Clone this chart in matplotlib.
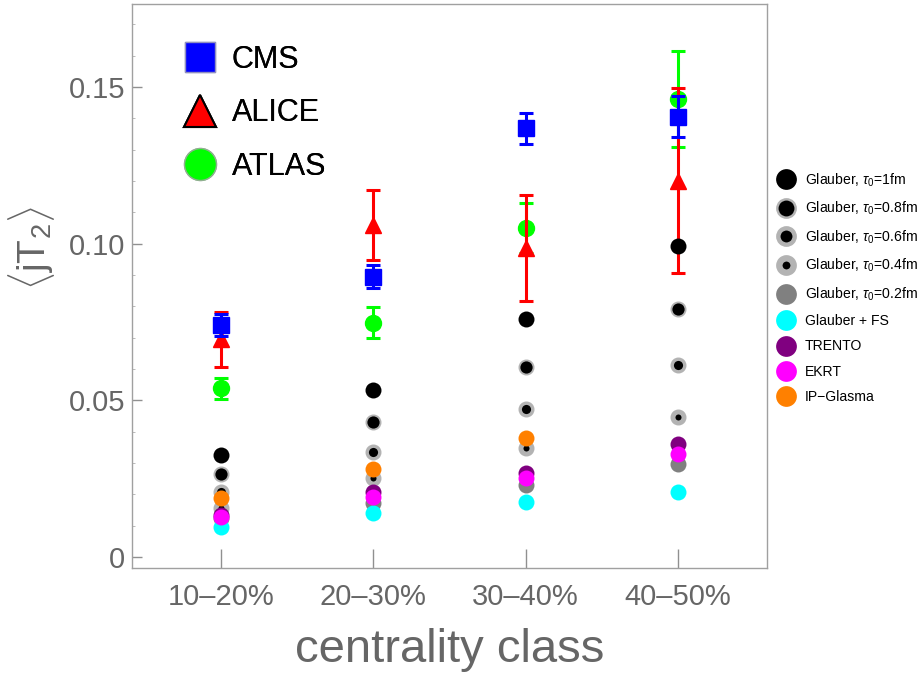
import numpy as np
import matplotlib
matplotlib.use("Agg")
import matplotlib.pyplot as plt
from matplotlib.lines import Line2D

plt.rcParams['font.family'] = ['Liberation Sans', 'DejaVu Sans']
plt.rcParams['mathtext.fontset'] = 'custom'
plt.rcParams['mathtext.rm'] = 'Liberation Sans'
plt.rcParams['mathtext.it'] = 'Liberation Sans:italic'

# ---------------- data ----------------
categories = ['10\u201320%', '20\u201330%', '30\u201340%', '40\u201350%']

cms = [0.0741, 0.0895, 0.1368, 0.1405]
cms_err = [0.0035, 0.0037, 0.0050, 0.0065]
alice = [0.0695, 0.1060, 0.0985, 0.1201]
alice_err = [0.0087, 0.0112, 0.0169, 0.0296]
atlas = [0.0538, 0.0748, 0.1049, 0.1461]
atlas_err = [0.0034, 0.0050, 0.0080, 0.0154]

glauber_1 = [0.0326, 0.0533, 0.0760, 0.0993]
glauber_08 = [0.0265, 0.0432, 0.0607, 0.0791]
glauber_06 = [0.0209, 0.0336, 0.0471, 0.0613]
glauber_04 = [0.0155, 0.0251, 0.0347, 0.0448]
glauber_02 = [0.0125, 0.0171, 0.0230, 0.0296]
glauber_fs = [0.0097, 0.0141, 0.0177, 0.0207]
trento = [0.0135, 0.0208, 0.0267, 0.0360]
ekrt = [0.0129, 0.0193, 0.0251, 0.0328]
ipglasma = [0.0187, 0.0280, 0.0381, np.nan]

x = np.arange(1, len(categories) + 1)

# ---------------- figure ----------------
fig = plt.figure(figsize=(9.22, 6.75), dpi=100)
ax = fig.add_axes([0.1432, 0.1585, 0.6887, 0.8356])

ecap = dict(elinewidth=2.2, capsize=5, capthick=2.2, ls='none')
ax.errorbar(x, atlas, yerr=atlas_err, marker='o', ms=11.5, color='#00ff00',
            mec='#00ff00', zorder=2, **ecap)
ax.errorbar(x, alice, yerr=alice_err, marker='^', ms=12, color='#ff0000',
            mec='#ff0000', zorder=3, **ecap)
ax.errorbar(x, cms, yerr=cms_err, marker='s', ms=11, color='#0000ff',
            mec='#0000ff', zorder=4, **ecap)

OUT = 11.5
ring = '#b3b3b3'

def ring_style(inner, outer=OUT):
    return dict(ms=(inner + outer) / 2, mew=(outer - inner) / 2,
                mfc='black', mec=ring)

theory = [
    (glauber_1, r'Glauber, $\tau_0$=1fm', dict(ms=OUT, mew=0, mfc='black', mec='black')),
    (glauber_08, r'Glauber, $\tau_0$=0.8fm', ring_style(8.8)),
    (glauber_06, r'Glauber, $\tau_0$=0.6fm', ring_style(6.6)),
    (glauber_04, r'Glauber, $\tau_0$=0.4fm', ring_style(4.4)),
    (glauber_02, r'Glauber, $\tau_0$=0.2fm', dict(ms=OUT, mew=0, mfc='#808080', mec='#808080')),
    (glauber_fs, 'Glauber + FS', dict(ms=OUT, mew=0, mfc='#00ffff', mec='#00ffff')),
    (trento, 'TRENTO', dict(ms=OUT, mew=0, mfc='#800080', mec='#800080')),
    (ekrt, 'EKRT', dict(ms=OUT, mew=0, mfc='#ff00ff', mec='#ff00ff')),
    (ipglasma, 'IP\u2212Glasma', dict(ms=OUT, mew=0, mfc='#ff8000', mec='#ff8000')),
]

handles_r = []
scale = 1.3
for i, (vals, lab, st) in enumerate(theory):
    ax.plot(x, vals, 'o', ls='none', zorder=5 + i, **st)
    hst = dict(st)
    hst['ms'] = st['ms'] * scale
    hst['mew'] = st['mew'] * scale
    handles_r.append(Line2D([], [], marker='o', ls='none', **hst))

# ---------------- axes styling ----------------
ax.set_xlim(0.416, 4.584)
ax.set_ylim(-0.0035, 0.1765)
ax.set_xticks(x)
ax.set_xticklabels(categories)
ax.set_yticks([0, 0.05, 0.10, 0.15])
ax.set_yticklabels(['0', '0.05', '0.10', '0.15'])
ax.set_yticks(np.arange(0.01, 0.176, 0.01), minor=True)

for s in ax.spines.values():
    s.set_color('#a0a0a0')
    s.set_linewidth(1.0)

ax.tick_params(axis='y', which='major', direction='in', length=7, width=1,
               color='#909090', labelsize=21, labelcolor='#666666', pad=5)
ax.tick_params(axis='y', which='minor', direction='in', length=2.5, width=0.6,
               color='#b0b0b0')
ax.tick_params(axis='x', which='major', direction='in', length=13.5, width=1,
               color='#909090', labelsize=21, labelcolor='#666666', pad=11)
ax.tick_params(axis='x', which='minor', bottom=False)
ax.tick_params(top=False, right=False)

ax.set_xlabel('centrality class', fontsize=34, color='#666666', labelpad=12)
ax.set_ylabel(r'$\langle$jT$_2\rangle$', fontsize=28, color='#666666')
ax.yaxis.set_label_coords(-0.118, 0.567)

# ---------------- legends ----------------
handles_l = [
    Line2D([], [], marker='s', ls='none', ms=22, mfc='#0000ff', mec='#9090c0', mew=1),
    Line2D([], [], marker='^', ls='none', ms=23, mfc='#ff0000', mec='black', mew=1.5),
    Line2D([], [], marker='o', ls='none', ms=23, mfc='#00ff00', mec='#90b090', mew=1),
]
leg1 = ax.legend(handles_l, ['CMS', 'ALICE', 'ATLAS'], loc='upper left',
                 bbox_to_anchor=(0.078, 0.927), frameon=False, fontsize=22,
                 handlelength=1.2, handletextpad=0.45, labelspacing=0.76,
                 borderaxespad=0, borderpad=0)
ax.add_artist(leg1)

fig.legend(handles_r, [t[1] for t in theory], loc='center left',
           bbox_to_anchor=(0.845, 0.574), frameon=False, fontsize=10.1,
           handlelength=1.05, handletextpad=0.78, labelspacing=0.8,
           borderaxespad=0, borderpad=0)

fig.savefig('out.png', dpi=100)
